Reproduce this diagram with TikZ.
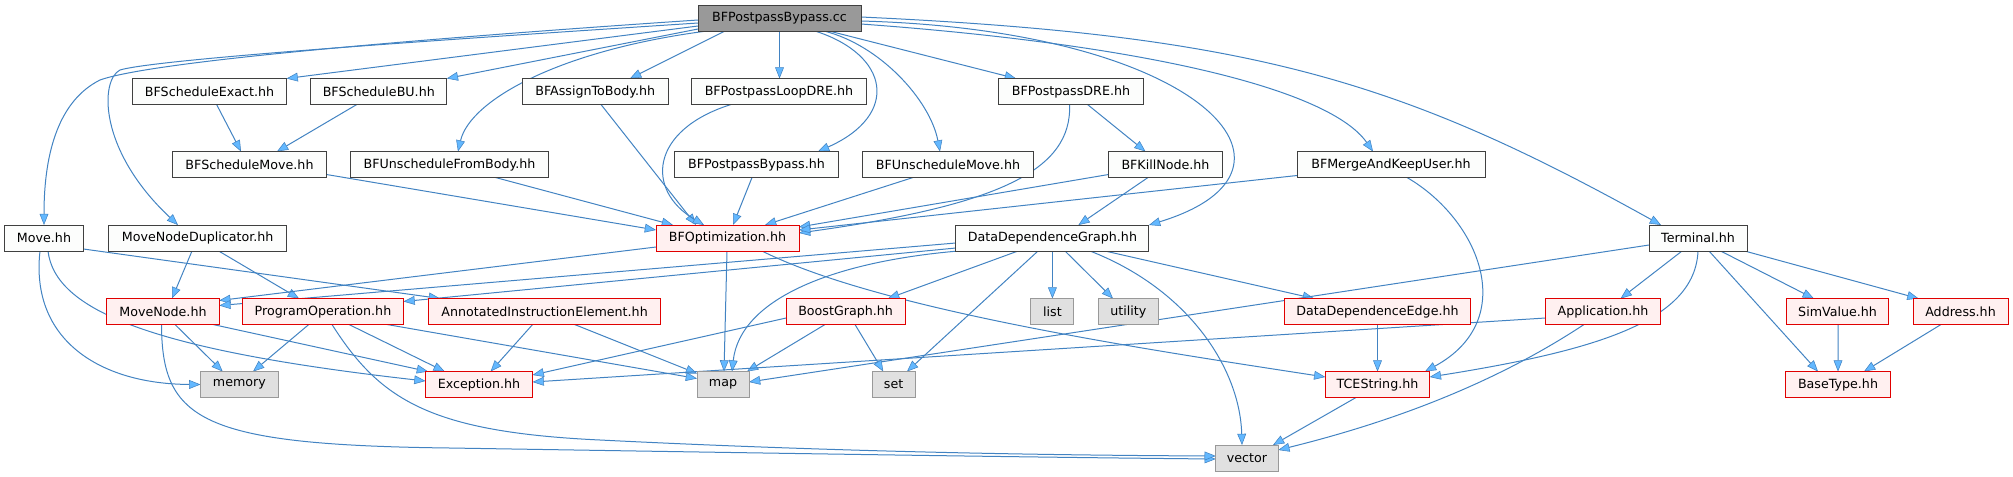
\documentclass[tikz,border=0pt]{standalone}
\usepackage{fontspec}
\setmainfont{DejaVu Sans}
\usetikzlibrary{arrows.meta,calc}
\pgfdeclarelayer{bg}
\pgfsetlayers{bg,main}
\definecolor{edgeline}{HTML}{4283C2}
\definecolor{edgehead}{HTML}{63B8FF}
\definecolor{nborder}{HTML}{404040}
\definecolor{nfill}{HTML}{FCFDFC}
\definecolor{rborder}{HTML}{E00000}
\definecolor{rfill}{HTML}{FFF0F0}
\definecolor{gborder}{HTML}{999999}
\definecolor{gfill}{HTML}{E0E0E0}
\definecolor{rootfill}{HTML}{999999}
\begin{document}
\begin{tikzpicture}[x=0.75pt,y=-0.75pt,
 box/.style={draw=nborder,fill=nfill,line width=0.75pt,inner sep=0pt,minimum height=26*0.75pt,font=\fontsize{9.5}{11}\selectfont,text=black},
 redbox/.style={box,draw=rborder,fill=rfill},
 graybox/.style={box,draw=gborder,fill=gfill},
 rootbox/.style={box,fill=rootfill},
 bw/.style={minimum width=#1*0.75pt},
 dep/.style={draw=edgeline,line width=0.75pt,-{Triangle[length=8.4pt,width=6.6pt,color=edgeline,fill=edgehead,line width=0.4pt]}}]
\useasboundingbox (0,0) rectangle (2013,476);
\node[rootbox,bw=163] (cc) at (779.5,18) {BFPostpassBypass.cc};
\node[box,bw=154] (exact) at (209.6,91.5) {BFScheduleExact.hh};
\node[box,bw=136] (bu) at (378.8,91.5) {BFScheduleBU.hh};
\node[box,bw=146] (assign) at (595.3,91.5) {BFAssignToBody.hh};
\node[box,bw=175] (loopdre) at (779,91.5) {BFPostpassLoopDRE.hh};
\node[box,bw=145] (dre) at (1071,91.5) {BFPostpassDRE.hh};
\node[box,bw=154.5] (smove) at (249.5,164.5) {BFScheduleMove.hh};
\node[box,bw=198] (ufb) at (449.5,164.5) {BFUnscheduleFromBody.hh};
\node[box,bw=164] (pbh) at (756.5,164.5) {BFPostpassBypass.hh};
\node[box,bw=171] (umove) at (948,164.5) {BFUnscheduleMove.hh};
\node[box,bw=114] (kill) at (1165.5,164.5) {BFKillNode.hh};
\node[box,bw=188] (merge) at (1391,164.5) {BFMergeAndKeepUser.hh};
\node[box,bw=79] (move) at (44,238) {Move.hh};
\node[box,bw=178.5] (mnd) at (197.7,238) {MoveNodeDuplicator.hh};
\node[redbox,bw=143] (bfopt) at (727.5,238) {BFOptimization.hh};
\node[box,bw=193] (ddg) at (1052.4,238) {DataDependenceGraph.hh};
\node[box,bw=98] (term) at (1698,238) {Terminal.hh};
\node[redbox,bw=112.5] (mnode) at (163,311.5) {MoveNode.hh};
\node[redbox,bw=161] (po) at (323,311.5) {ProgramOperation.hh};
\node[redbox,bw=232] (aie) at (544.6,311.5) {AnnotatedInstructionElement.hh};
\node[redbox,bw=119] (boost) at (845.6,311.5) {BoostGraph.hh};
\node[graybox,bw=43] (list) at (1052.4,311.5) {list};
\node[graybox,bw=60] (utility) at (1128.4,311.5) {utility};
\node[redbox,bw=186] (dde) at (1377.5,311.5) {DataDependenceEdge.hh};
\node[redbox,bw=115] (app) at (1603,311.5) {Application.hh};
\node[redbox,bw=102] (simv) at (1837.6,311.5) {SimValue.hh};
\node[redbox,bw=95] (addr) at (1960.5,311.5) {Address.hh};
\node[graybox,bw=78] (memory) at (239.4,384.5) {memory};
\node[redbox,bw=107] (exc) at (479,384.5) {Exception.hh};
\node[graybox,bw=52] (map) at (723,384.5) {map};
\node[graybox,bw=43] (set) at (893.6,384.5) {set};
\node[redbox,bw=104.5] (tce) at (1377.5,384.5) {TCEString.hh};
\node[redbox,bw=104.6] (base) at (1838,384.5) {BaseType.hh};
\node[graybox,bw=62.5] (vector) at (1247,458) {vector};
\begin{pgfonlayer}{bg}
% root
\draw[dep] ($(cc)+(-81.5,2)$) .. controls (400,40) and (150,62) .. (100,80) .. controls (60,100) and (44,150) .. ($(move)+(0,-13)$);
\draw[dep] ($(cc)+(-81.5,5)$) .. controls (500,36) and (160,58) .. (120,70) .. controls (100,80) and (98,150) .. ($(mnd)+(-19.7,-13)$);
\draw[dep] ($(cc)+(-81.5,8)$) -- ($(exact)+(77,-13)$);
\draw[dep] ($(cc)+(-81.5,11)$) -- ($(bu)+(68,-13)$);
\draw[dep] ($(cc)+(-72.5,13)$) .. controls (560,50) and (470,100) .. ($(ufb)+(8.5,-13)$);
\draw[dep] ($(cc)+(-54.5,13)$) -- ($(assign)+(34.7,-13)$);
\draw[dep] ($(cc)+(0,13)$) -- ($(loopdre)+(0.5,-13)$);
\draw[dep] ($(cc)+(35.5,13)$) .. controls (890,55) and (900,115) .. ($(pbh)+(61.5,-13)$);
\draw[dep] ($(cc)+(44.5,13)$) .. controls (880,45) and (930,100) .. ($(umove)+(-8,-13)$);
\draw[dep] ($(cc)+(49.5,13)$) -- ($(dre)+(-55,-13)$);
\draw[dep] ($(cc)+(81.5,3)$) .. controls (1200,30) and (1330,170) .. ($(ddg)+(96.6,-13)$);
\draw[dep] ($(cc)+(81.5,6)$) .. controls (1150,45) and (1330,90) .. ($(merge)+(-18,-13)$);
\draw[dep] ($(cc)+(81.5,-1)$) .. controls (1250,35) and (1400,80) .. ($(term)+(-37,-13)$);
% rows 2-3
\draw[dep] ($(exact)+(7,13)$) -- ($(smove)+(-8.5,-13)$);
\draw[dep] ($(bu)+(-22,13)$) -- ($(smove)+(27.5,-13)$);
\draw[dep] ($(smove)+(77,10)$) -- ($(bfopt)+(-71.5,-8)$);
\draw[dep] ($(ufb)+(46,13)$) -- ($(bfopt)+(-54.5,-13)$);
\draw[dep] ($(assign)+(5.7,13)$) -- ($(bfopt)+(-31.5,-13)$);
\draw[dep] ($(loopdre)+(-48,13)$) .. controls (650,130) and (645,190) .. ($(bfopt)+(-23.5,-13)$);
\draw[dep] ($(pbh)+(-4.5,13)$) -- ($(bfopt)+(5.5,-13)$);
\draw[dep] ($(umove)+(-35,13)$) -- ($(bfopt)+(37.5,-13)$);
\draw[dep] ($(dre)+(-1.4,13)$) .. controls (1072,170) and (1000,205) .. ($(bfopt)+(71.5,-5)$);
\draw[dep] ($(dre)+(16.5,13)$) -- ($(kill)+(-20,-13)$);
\draw[dep] ($(kill)+(-17.5,13)$) -- ($(ddg)+(26,-13)$);
\draw[dep] ($(kill)+(-57,10)$) -- ($(bfopt)+(71.5,-11)$);
\draw[dep] ($(merge)+(-94,11)$) -- ($(bfopt)+(71.5,-8)$);
\draw[dep] ($(merge)+(16,13)$) .. controls (1480,220) and (1520,320) .. ($(tce)+(47.5,-13)$);
% row 4
\draw[dep] ($(move)+(-4,13)$) .. controls (30,340) and (100,384) .. ($(memory)+(-39,0)$);
\draw[dep] ($(move)+(4,13)$) .. controls (55,310) and (150,350) .. ($(exc)+(-53.5,-3.5)$);
\draw[dep] ($(move)+(39.5,11)$) -- ($(aie)+(-104.6,-13)$);
\draw[dep] ($(mnd)+(-5.7,13)$) -- ($(mnode)+(9,-13)$);
\draw[dep] ($(mnd)+(21,13)$) -- ($(po)+(-24,-13)$);
\draw[dep] ($(bfopt)+(-71.5,9)$) -- ($(mnode)+(56.25,-11)$);
\draw[dep] ($(ddg)+(-96.6,5)$) -- ($(mnode)+(56.25,-6)$);
\draw[dep] ($(ddg)+(-96.6,10)$) -- ($(po)+(80.5,-10)$);
\draw[dep] ($(bfopt)+(-0.5,13)$) -- ($(map)+(1,-13)$);
\draw[dep] ($(bfopt)+(34.5,13)$) .. controls (880,310) and (1150,350) .. ($(tce)+(-52.2,-7.5)$);
\draw[dep] ($(ddg)+(-34.4,13)$) -- ($(boost)+(42.4,-13)$);
\draw[dep] ($(ddg)+(-94,13)$) .. controls (830,262) and (740,300) .. ($(map)+(9,-13)$);
\draw[dep] ($(ddg)+(-14.4,13)$) -- ($(set)+(13.4,-13)$);
\draw[dep] ($(ddg)+(0,13)$) -- ($(list)+(0,-13)$);
\draw[dep] ($(ddg)+(12.6,13)$) -- ($(utility)+(-15.4,-13)$);
\draw[dep] ($(ddg)+(37.6,13)$) .. controls (1190,290) and (1240,370) .. ($(vector)+(-5,-13)$);
\draw[dep] ($(ddg)+(52.6,13)$) -- ($(dde)+(-63.5,-13)$);
\draw[dep] ($(term)+(-49,7)$) -- ($(map)+(26,-2.5)$);
\draw[dep] ($(term)+(-16,13)$) -- ($(app)+(17.6,-13)$);
\draw[dep] ($(term)+(0,13)$) .. controls (1695,320) and (1600,350) .. ($(tce)+(52.25,-7.5)$);
\draw[dep] ($(term)+(11,13)$) -- ($(base)+(-20,-13)$);
\draw[dep] ($(term)+(22.6,13)$) -- ($(simv)+(-23.8,-13)$);
\draw[dep] ($(term)+(43,12)$) -- ($(addr)+(-42,-13)$);
% row 5
\draw[dep] ($(mnode)+(12,13)$) -- ($(memory)+(-16.7,-13)$);
\draw[dep] ($(mnode)+(50,13)$) -- ($(exc)+(-51,-13)$);
\draw[dep] ($(mnode)+(-1.5,13)$) .. controls (162,420) and (200,445) .. (450,448) .. controls (700,452) and (1000,457) .. ($(vector)+(-31.25,1)$);
\draw[dep] ($(po)+(-14.2,13)$) -- ($(memory)+(13.6,-13)$);
\draw[dep] ($(po)+(26,13)$) -- ($(exc)+(-34.3,-13)$);
\draw[dep] ($(po)+(64,13)$) -- ($(map)+(-26,-6)$);
\draw[dep] ($(po)+(9,13)$) .. controls (380,400) and (430,432) .. (600,440) .. controls (800,450) and (1000,455) .. ($(vector)+(-31.25,-2)$);
\draw[dep] ($(aie)+(-12,13)$) -- ($(exc)+(11.6,-13)$);
\draw[dep] ($(aie)+(30,13)$) -- ($(map)+(-26,-11)$);
\draw[dep] ($(boost)+(-20.6,13)$) -- ($(map)+(24,-13)$);
\draw[dep] ($(boost)+(9.4,13)$) -- ($(set)+(-10.3,-13)$);
\draw[dep] ($(boost)+(-59.5,6.5)$) -- ($(exc)+(53.6,-9.5)$);
\draw[dep] ($(dde)+(0,13)$) -- ($(tce)+(0,-13)$);
\draw[dep] ($(app)+(-19,13)$) .. controls (1500,380) and (1400,420) .. ($(vector)+(31.25,-8)$);
\draw[dep] ($(app)+(-57.5,6.5)$) -- ($(exc)+(53.6,-2.5)$);
\draw[dep] ($(simv)+(0.4,13)$) -- ($(base)+(0,-13)$);
\draw[dep] ($(addr)+(-19.5,13)$) -- ($(base)+(26,-13)$);
\draw[dep] ($(tce)+(-21.5,13)$) -- ($(vector)+(26,-13)$);
\end{pgfonlayer}
\end{tikzpicture}
\end{document}
